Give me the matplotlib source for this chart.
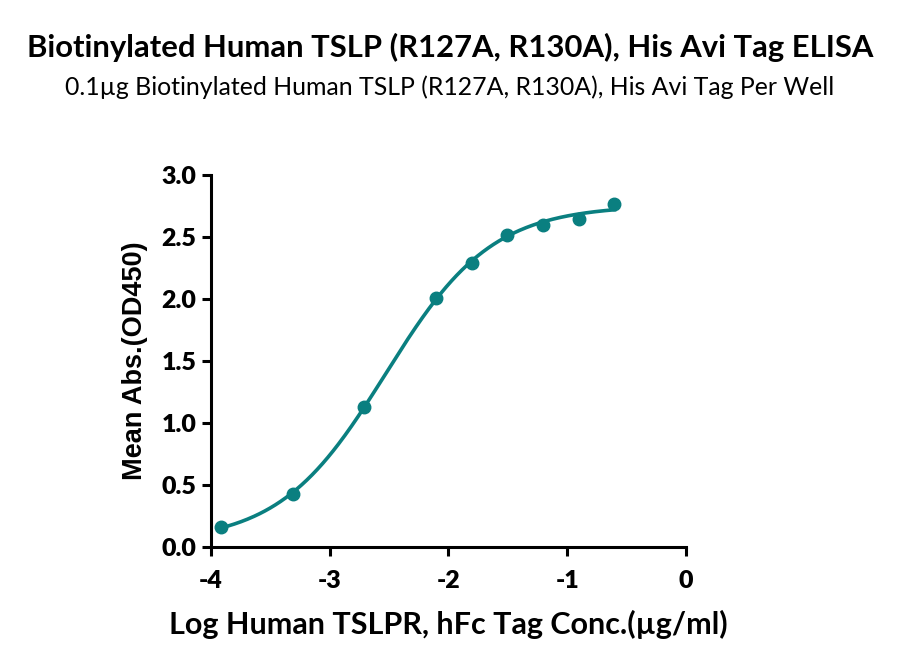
import numpy as np
import matplotlib
matplotlib.use("Agg")
import matplotlib.pyplot as plt

# Data
log_conc = [-3.913, -3.311, -2.709, -2.107, -1.806, -1.505, -1.204, -0.903, -0.602]
mean_abs = [0.16, 0.43, 1.13, 2.01, 2.29, 2.52, 2.60, 2.645, 2.77]
title = "Biotinylated Human TSLP (R127A, R130A), His Avi Tag ELISA"
subtitle = "0.1\u00b5g Biotinylated Human TSLP (R127A, R130A), His Avi Tag Per Well"
xlabel = "Log Human TSLPR, hFc Tag Conc.(\u00b5g/ml)"
ylabel = "Mean Abs.(OD450)"
xticks = [-4, -3, -2, -1, 0]
yticks = [0.0, 0.5, 1.0, 1.5, 2.0, 2.5, 3.0]

color = "#0a7f80"

# 4PL fit (grid search over logEC50 & hill, linear LSQ for bottom/top)
x = np.array(log_conc)
y = np.array(mean_abs)
best = None
for ec in np.linspace(-4, -1, 301):
    for h in np.linspace(0.3, 3.0, 271):
        s = 1.0 / (1.0 + 10 ** ((ec - x) * h))
        A = np.column_stack([1 - s, s])
        coef, *_ = np.linalg.lstsq(A, y, rcond=None)
        r = np.sum((A @ coef - y) ** 2)
        if best is None or r < best[0]:
            best = (r, ec, h, coef)
_, ec, h, (bot, top) = best
xf = np.linspace(x.min(), x.max(), 300)
sf = 1.0 / (1.0 + 10 ** ((ec - xf) * h))
yf = bot * (1 - sf) + top * sf

fig = plt.figure(figsize=(9, 6.71), dpi=100)
ax = fig.add_axes([0.2344, 0.1848, 0.5278, 0.5544])
ax.plot(xf, yf, color=color, lw=2.6, zorder=2)
ax.plot(x, y, "o", color=color, ms=9, zorder=3, clip_on=False)

ax.set_xlim(-4, 0)
ax.set_ylim(0, 3)
ax.set_xticks(xticks)
ax.set_yticks(yticks)
ax.set_xticklabels([f"{t:d}" for t in xticks], fontfamily="Lato", fontweight="heavy", fontsize=18)
ax.set_yticklabels([f"{t:.1f}" for t in yticks], fontfamily="Lato", fontweight="heavy", fontsize=18)
for s in ["top", "right"]:
    ax.spines[s].set_visible(False)
for s in ["left", "bottom"]:
    ax.spines[s].set_linewidth(2.2)
ax.tick_params(direction="out", length=6.5, width=2.2)
ax.tick_params(axis="y", pad=4)
ax.tick_params(axis="x", pad=10)

ax.set_xlabel(xlabel, fontfamily="Lato", fontweight="bold", fontsize=22, labelpad=13)
ax.set_ylabel(ylabel, fontfamily="Liberation Sans", fontweight="bold", fontsize=19.5, labelpad=10)

fig.text(0.5, 1 - 47 / 671, title, ha="center", va="center", fontfamily="Lato", fontweight="bold", fontsize=22.3)
fig.text(0.5, 1 - 87 / 671, subtitle, ha="center", va="center", fontfamily="Lato", fontsize=17.9)

fig.savefig("out.png", dpi=100)
